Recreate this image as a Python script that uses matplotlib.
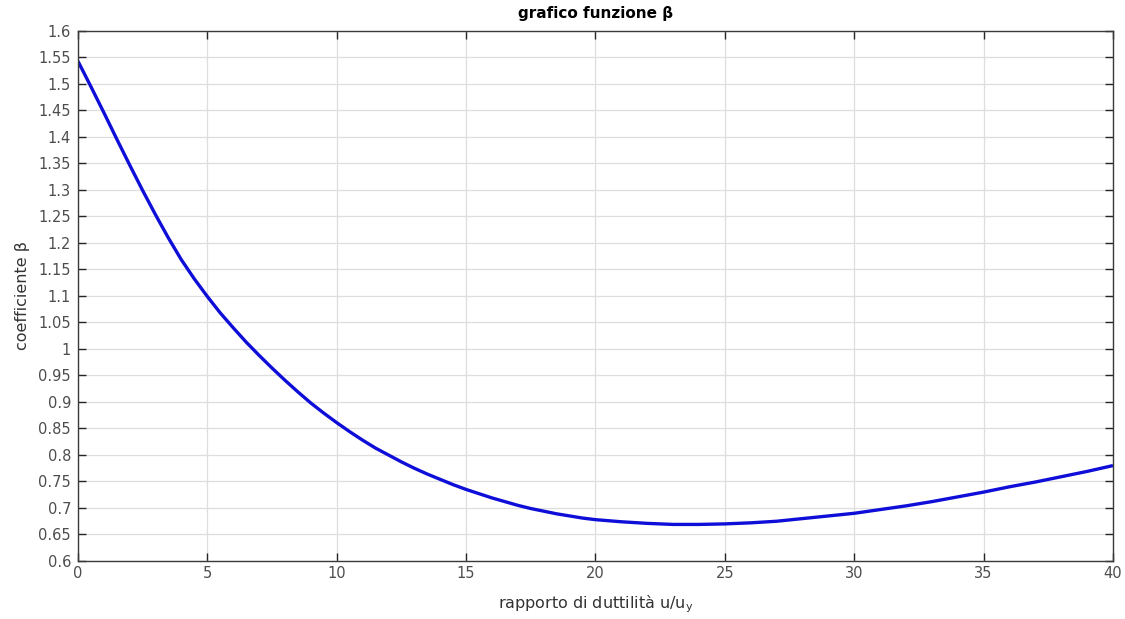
import matplotlib
matplotlib.use("Agg")
from matplotlib import pyplot as plt
from matplotlib.ticker import MultipleLocator

# rapporto di duttilita' u/u_y
ductility = [0, 0.5, 1, 1.5, 2, 2.5, 3, 3.5, 4, 4.5, 5,
             5.5, 6, 6.5, 7, 7.5, 8, 8.5, 9, 9.5, 10,
             10.5, 11, 11.5, 12, 12.5, 13, 13.5, 14, 14.5, 15,
             15.5, 16, 16.5, 17, 17.5, 18, 18.5, 19, 19.5, 20,
             21, 22, 23, 24, 25, 26, 27, 28, 29, 30,
             31, 32, 33, 34, 35, 36, 37, 38, 39, 40]
# coefficiente beta
beta = [1.543, 1.495, 1.446, 1.396, 1.347, 1.299, 1.253, 1.209, 1.168, 1.132, 1.099,
        1.068, 1.040, 1.013, 0.988, 0.964, 0.941, 0.919, 0.898, 0.879, 0.861,
        0.844, 0.828, 0.813, 0.800, 0.787, 0.775, 0.764, 0.754, 0.744, 0.735,
        0.727, 0.719, 0.712, 0.705, 0.699, 0.694, 0.689, 0.685, 0.681, 0.678,
        0.674, 0.671, 0.669, 0.669, 0.670, 0.672, 0.675, 0.680, 0.685, 0.690,
        0.697, 0.704, 0.712, 0.721, 0.730, 0.740, 0.749, 0.759, 0.769, 0.780]

plt.rcParams["font.family"] = ["DejaVu Sans"]

fig = plt.figure(figsize=(11.25, 6.19), dpi=100)
ax = fig.add_axes([0.0693, 0.0937, 0.92, 0.8563])

ax.plot(ductility, beta, color="#0e0ed8", linewidth=2.4, solid_capstyle="butt")

ax.set_xlim(0, 40)
ax.set_ylim(0.6, 1.6)
ax.xaxis.set_major_locator(MultipleLocator(5))
ax.yaxis.set_major_locator(MultipleLocator(0.05))
ax.yaxis.set_major_formatter(plt.FuncFormatter(lambda v, p: "{:g}".format(round(v, 2))))

ax.grid(True, color="#dedede", linewidth=0.9)
ax.set_axisbelow(True)
ax.tick_params(direction="in", length=6, width=1.0, colors="#262626",
               labelcolor="#4d4d4d", labelsize=10.5, top=True, right=True)
ax.tick_params(axis="y", pad=5)
for spine in ax.spines.values():
    spine.set_color("#3a3a3a")
    spine.set_linewidth(1.0)

ax.set_title("grafico funzione β", fontsize=11, fontweight="bold", pad=9)
ax.set_xlabel("rapporto di duttilità u/u$_\\mathregular{y}$", fontsize=11.5,
              color="#333333", labelpad=9)
ax.set_ylabel("coefficiente β", fontsize=11.5, color="#333333", labelpad=6)

plt.savefig("out.png", dpi=100)
